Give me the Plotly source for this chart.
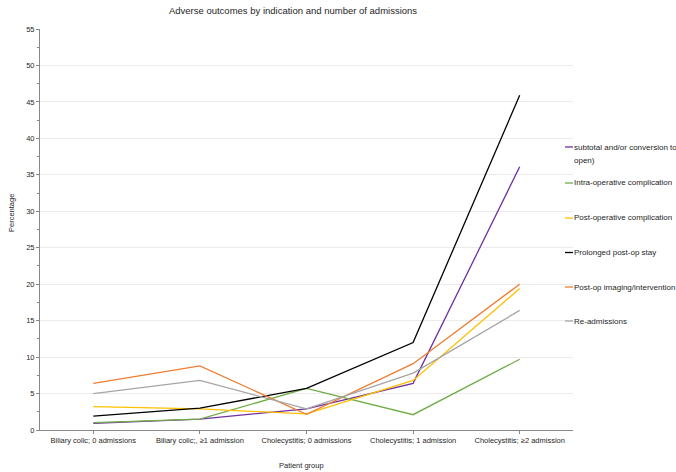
import plotly.graph_objects as go

categories = ["Biliary colic; 0 admissions", "Biliary colic;, \u22651 admission",
              "Cholecystitis; 0 admissions", "Cholecystitis; 1 admission",
              "Cholecystitis; \u22652 admission"]

series_names = ["subtotal and/or conversion to<br>open)", "Intra-operative complication",
                "Post-operative complication", "Prolonged post-op stay",
                "Post-op imaging/intervention", "Re-admissions"]

subtotal_conversion = [0.9, 1.5, 2.9, 6.4, 36.1]
intra_op = [1.0, 1.5, 5.7, 2.1, 9.7]
post_op = [3.2, 2.9, 2.2, 6.8, 19.4]
prolonged_stay = [1.9, 3.0, 5.7, 12.0, 45.9]
imaging_intervention = [6.4, 8.8, 2.15, 9.1, 20.0]
readmissions = [5.0, 6.8, 2.9, 7.8, 16.4]

series_values = [subtotal_conversion, intra_op, post_op, prolonged_stay,
                 imaging_intervention, readmissions]
colors = ["#7030A0", "#70AD47", "#FFC000", "#000000", "#ED7D31", "#A5A5A5"]

y_ticks = list(range(0, 60, 5))

FONT = "Liberation Sans, Arial, sans-serif"
TXT = "#262626"

fig = go.Figure()
for name, vals, col in zip(series_names, series_values, colors):
    fig.add_trace(go.Scatter(x=categories, y=vals, mode="lines", name=name,
                             line=dict(color=col, width=1.3), showlegend=False,
                             hoverinfo="skip"))

W, H = 676, 472
L, R, T, B = 40, 103, 29, 42
pw, ph = W - L - R, H - T - B

def px2paper(px, py):
    return (px - L) / pw, (H - B - py) / ph

# custom legend
legend_y = [147, 183, 218, 252.5, 287, 321]
shapes = []
annotations = []
for name, col, ly in zip(series_names, colors, legend_y):
    x0, y0 = px2paper(565, ly)
    x1, _ = px2paper(573, ly)
    shapes.append(dict(type="line", xref="paper", yref="paper", x0=x0, x1=x1, y0=y0, y1=y0,
                       line=dict(color=col, width=1.3)))
    lines = name.split("<br>")
    for i, t in enumerate(lines):
        tx, ty = px2paper(572, ly + 13 * i)
        annotations.append(dict(xref="paper", yref="paper", x=tx, y=ty, text=t,
                                showarrow=False, xanchor="left", yanchor="middle",
                                font=dict(family=FONT, size=8, color=TXT)))

ax, ay = px2paper(301, 465.5)
annotations.append(dict(xref="paper", yref="paper", x=ax, y=ay, text="Patient group",
                        showarrow=False, xanchor="center", yanchor="middle",
                        font=dict(family=FONT, size=7.5, color=TXT)))
bx, by = px2paper(12, 213)
annotations.append(dict(xref="paper", yref="paper", x=bx, y=by, text="Percentage",
                        showarrow=False, xanchor="center", yanchor="middle", textangle=-90,
                        font=dict(family=FONT, size=7.5, color=TXT)))

fig.update_layout(
    width=W, height=H,
    margin=dict(l=L, r=R, t=T, b=B, pad=0),
    paper_bgcolor="white", plot_bgcolor="white",
    font=dict(family=FONT, size=7.5, color=TXT),
    title=dict(text="Adverse outcomes by indication and number of admissions",
               x=293 / W, xref="container", xanchor="center",
               y=1 - 11 / H, yref="container", yanchor="middle",
               font=dict(family=FONT, size=9.5, color=TXT)),
    showlegend=False,
    hovermode=False,
    shapes=shapes,
    annotations=annotations,
    xaxis=dict(type="category", categoryorder="array", categoryarray=categories,
               range=[-0.5, 4.5], showgrid=False, showline=True, linecolor="#888888",
               linewidth=1, ticks="outside", ticklen=3, tickcolor="#888888",
               tickfont=dict(family=FONT, size=7.5, color=TXT), zeroline=False,
               automargin=False),
    yaxis=dict(range=[0, 55], tickvals=y_ticks, showgrid=True, gridcolor="#ebebeb",
               gridwidth=1, showline=True, linecolor="#888888", linewidth=1,
               ticks="outside", ticklen=3, tickcolor="#888888", zeroline=False,
               tickfont=dict(family=FONT, size=7.5, color=TXT), automargin=False,
               minor=dict(dtick=2.5, ticks="outside", ticklen=2, tickcolor="#888888",
                          showgrid=False)),
)

fig.write_html("out.html", config={"displayModeBar": False},
               post_script="document.body.style.margin='0';")
